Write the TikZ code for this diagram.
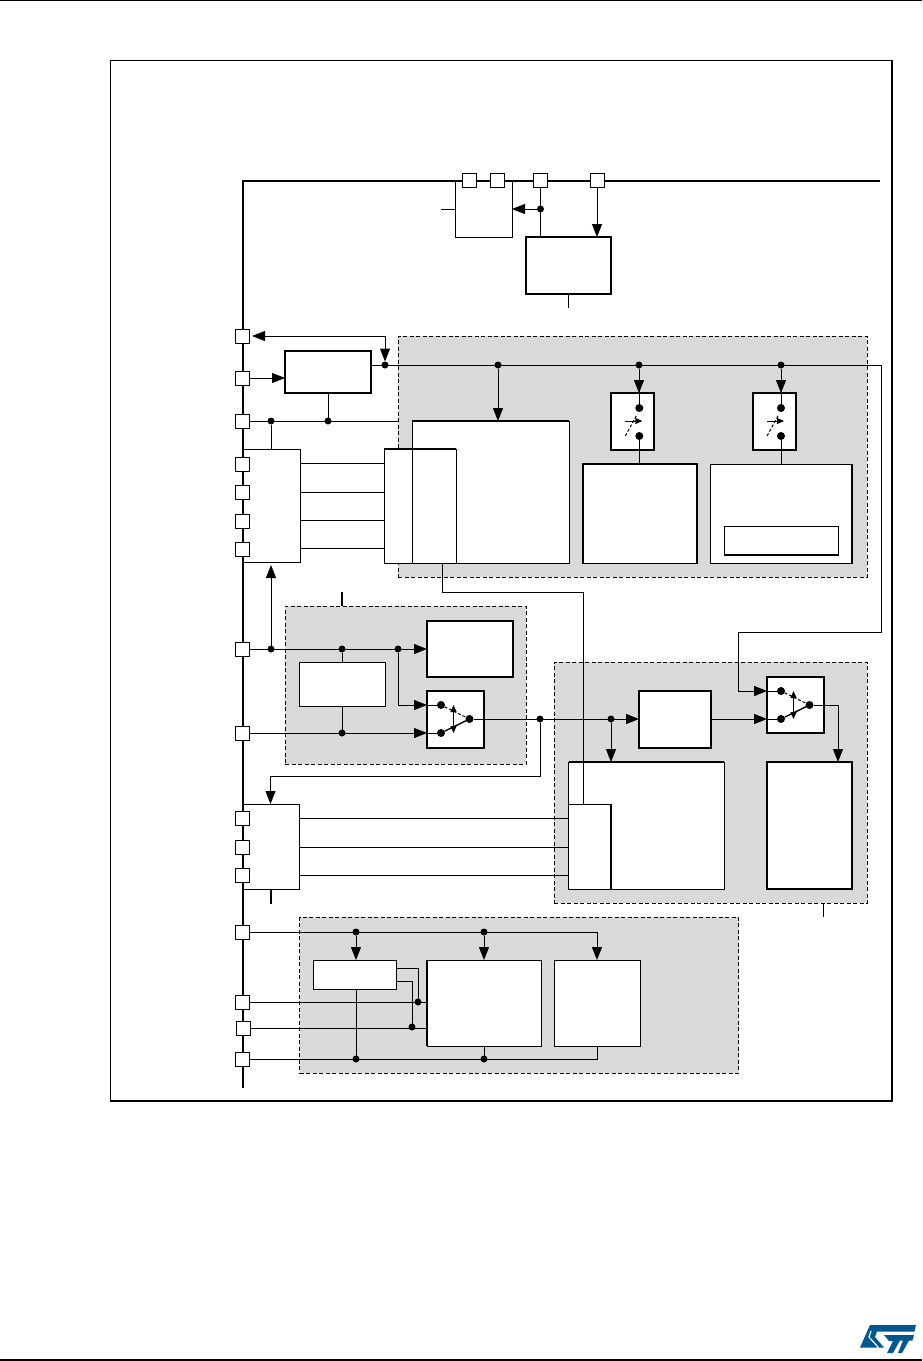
\documentclass[tikz,border=0pt]{standalone}
\usepackage{xcolor}
\usetikzlibrary{arrows.meta, positioning, calc}
\definecolor{panelgray}{HTML}{D9D9D9}
\definecolor{stblue}{HTML}{03578F}
\tikzset{
    sheet/.style={x=1pt, y=-1pt},
    thinbox/.style={draw, fill=white, line width=1pt, inner sep=0pt, outer sep=0pt, anchor=north west},
    thickbox/.style={thinbox, line width=1.6pt},
    panel/.style={draw, fill=panelgray, dashed, dash pattern=on 4pt off 2.5pt, line width=.9pt, inner sep=0pt, outer sep=0pt, anchor=north west},
    pad/.style={draw, fill=white, line width=1pt, minimum size=14pt, inner sep=0pt, outer sep=0pt},
    dot/.style={circle, fill=black, minimum size=7pt, inner sep=0pt, outer sep=0pt},
    contact/.style={circle, fill=black, minimum size=8pt, inner sep=0pt, outer sep=0pt},
    sig/.style={line width=1pt},
    heavy/.style={line width=1.8pt},
    arr/.style={line width=1pt, -{Triangle[length=13pt,width=10pt]}},
    arrtwo/.style={line width=1pt, {Triangle[length=13pt,width=10pt]}-{Triangle[length=13pt,width=10pt]}},
    tinyarr/.style={line width=1pt, -{Triangle[length=7pt,width=6pt]}},
    both/.style={line width=1.2pt, {Triangle[length=7pt,width=6pt]}-{Triangle[length=7pt,width=6pt]}},
}

\begin{document}
\begin{tikzpicture}[sheet]
    \useasboundingbox (0,0) rectangle (922,1361);
    \fill[white] (0,0) rectangle (922,1361);

    % page rules and frame
    \draw[line width=1.2pt] (0,.6) -- (922,.6);
    \draw[line width=1.2pt] (0,1360) -- (922,1360);
    \draw[line width=1.2pt] (110.5,60.5) rectangle (892,1101);

    % grey panels
    \node[panel, minimum width=469pt, minimum height=241pt] (panelA) at (398,336) {};
    \node[panel, minimum width=241pt, minimum height=158pt] (panelB) at (285,606) {};
    \node[panel, minimum width=313pt, minimum height=241pt] (panelC) at (554,662) {};
    \node[panel, minimum width=439pt, minimum height=156pt] (panelD) at (299.5,917) {};

    % supply rail
    \coordinate (railEnd) at (243,1088);
    \coordinate (railCorner) at (243,181);
    \coordinate (railRight) at (880,181);
    \draw[line width=1.8pt] (railEnd) -- (railCorner) -- (railRight);

    % blocks at the top
    \node[thinbox, minimum width=57pt, minimum height=56pt] (regbox) at (455,181) {};
    \node[thickbox, minimum width=85pt, minimum height=57pt] (topbox) at (526,237) {};
    \node[thickbox, minimum width=86pt, minimum height=42pt] (refbox) at (285,351) {};

    % first converter group
    \node[thinbox, minimum width=157pt, minimum height=142.5pt] (convA) at (412,421) {};
    \node[thinbox, minimum width=72pt, minimum height=114pt] (inA) at (384,449) {};
    \node[thinbox, minimum width=57pt, minimum height=113pt] (gpioA) at (243,449) {};
    \node[thickbox, minimum width=43pt, minimum height=57pt] (swboxA) at (611,393) {};
    \node[thickbox, minimum width=43pt, minimum height=57pt] (swboxB) at (753,393) {};
    \node[thickbox, minimum width=114pt, minimum height=99.5pt] (dacA) at (583,464) {};
    \node[thinbox, minimum width=142pt, minimum height=99.5pt] (dacB) at (710,464) {};
    \node[thinbox, minimum width=114pt, minimum height=29pt] (innerB) at (724,526) {};
    \draw[heavy] (convA.north west) -- (convA.north east);
    \draw[heavy] (inA.north west) -- (inA.north east);
    \draw[heavy] (dacB.north east) -- (dacB.south east);
    \draw[heavy] (innerB.south west) -- (innerB.south east);

    % oscillator group
    \node[thickbox, minimum width=86pt, minimum height=56pt] (oscA) at (427,621) {};
    \node[thinbox, minimum width=86pt, minimum height=44pt] (oscB) at (299,662) {};
    \node[thickbox, minimum width=57pt, minimum height=57pt] (swboxC) at (427,691) {};

    % second converter group
    \node[thickbox, minimum width=72pt, minimum height=57pt] (ampbox) at (639,691) {};
    \node[thickbox, minimum width=57pt, minimum height=56pt] (swboxD) at (767,677) {};
    \node[thinbox, minimum width=155.5pt, minimum height=127pt] (convB) at (568.5,762) {};
    \node[thinbox, minimum width=42.5pt, minimum height=85pt] (inB) at (568.5,804) {};
    \node[thickbox, minimum width=85pt, minimum height=127pt] (sideC) at (767,762) {};
    \node[thinbox, minimum width=56.5pt, minimum height=85pt] (gpioB) at (243,804) {};
    \draw[heavy] (convB.north west) -- (convB.north east);
    \draw[heavy] (inB.north east) -- (inB.south east);

    % lower group
    \node[thinbox, minimum width=83pt, minimum height=29pt] (ctlbox) at (313,960) {};
    \node[thinbox, minimum width=114pt, minimum height=86pt] (lowA) at (427,960) {};
    \node[thinbox, minimum width=85.5pt, minimum height=86pt] (lowB) at (554.5,960) {};
    \draw[heavy] (lowA.north west) -- (lowA.south west);

    % pads
    \foreach \px/\nm in {469.5/A, 497.5/B, 540.5/C, 597/D}
        \node[pad] (top\nm) at (\px,180.5) {};
    \foreach \py/\nm in {336/A, 378/B, 421/C, 464/D, 492/E, 521/F, 549/G, 649/H, 733/I, 818/J, 847/K, 875/L, 932/M, 1002/N, 1059/P}
        \node[pad] (pad\nm) at (242,\py) {};
    \node[pad] (padO) at (243.5,1028) {};

    % junctions
    \foreach \px/\py/\nm in {540.5/209/reg, 385/365/ref, 498/365/convtap, 639/365/tapA, 781/365/tapB,
        271/421/vssA, 328/421/vssB, 271/649/clkA, 342/649/clkB, 398/649/clkC, 342/733/clkD,
        540/719/outA, 611/719/outB, 356/932/lowP, 484/932/lowQ, 356/1059/lowR, 484/1059/lowS,
        418/1002/lowT, 412/1027/lowU}
        \node[dot] (j\nm) at (\px,\py) {};

    % top connectors
    \coordinate (regStub) at (441,209);
    \coordinate (topStub) at (568,308);
    \draw[sig] (regStub) -- (regStub -| regbox.west);
    \draw[arr] (jreg) -- (jreg -| regbox.east);
    \draw[sig] (topC) -- (topC |- topbox.north);
    \draw[arr] (topD) -- (topD |- topbox.north);
    \draw[sig] (topStub) -- (topStub |- topbox.south);

    % reference line
    \coordinate (refEnd) at (881,365);
    \coordinate (refBelow) at (881,632);
    \coordinate (refTurn) at (738,632);
    \coordinate (swInA) at (738,691);
    \coordinate (vssEnd) at (398,421);
    \draw[arrtwo, shorten >=3pt] (jref.north) |- (padA);
    \draw[arr] (padB) -- (padB -| refbox.west);
    \draw[sig] (refbox.east |- refEnd) -- (refEnd) -- (refBelow) -- (refTurn) -- (swInA);
    \draw[arr] (swInA) -- (swInA -| swboxD.west);
    \draw[arr] (jconvtap) -- (jconvtap |- convA.north);
    \draw[arr] (jtapA) -- (jtapA |- swboxA.north);
    \draw[arr] (jtapB) -- (jtapB |- swboxB.north);
    \draw[sig] (padC) -- (vssEnd);
    \draw[sig] (jvssB) -- (jvssB |- refbox.south);
    \draw[sig] (jvssA) -- (jvssA |- gpioA.north);

    % first converter wiring
    \foreach \py in {463.5, 492, 520, 548.5}
        \draw[sig] (gpioA.west |- 0,\py) ++(57,0) -- (inA.west |- 0,\py);
    \draw[sig] (convA.north west |- inA.north) -- (convA.south west);
    \coordinate (busA) at (442,592);
    \coordinate (busB) at (583,592);
    \draw[sig] (busA |- inA.south) -- (busA) -- (busB) -- (busB |- inB.north);

    % contacts of the two upright switches
    \foreach \nm/\px in {A/639.3, B/781} {
        \node[contact] (sw\nm up) at (\px,408) {};
        \node[contact] (sw\nm lo) at (\px,436) {};
        \coordinate (sw\nm arL) at (\px-14,421);
        \coordinate (sw\nm arR) at (\px+3,421);
        \coordinate (sw\nm daL) at (\px-14,436);
        \coordinate (sw\nm daR) at (\px-2,414);
        \draw[sig] (sw\nm up.north) -- ++(0,-15);
        \draw[tinyarr] (sw\nm arL) -- (sw\nm arR);
        \draw[sig, dashed, dash pattern=on 3pt off 2pt] (sw\nm daL) -- (sw\nm daR);
    }
    \draw[sig] (swAlo) -- (swAlo |- dacA.north);
    \draw[sig] (swBlo) -- (swBlo |- dacB.north);

    % oscillator wiring
    \coordinate (clkTurn) at (398,705);
    \draw[arr, shorten >=3pt] (jclkA) -- (jclkA |- gpioA.south);
    \draw[arr] (padH) -- (padH -| oscA.west);
    \draw[sig] (jclkB) -- (jclkB |- oscB.north);
    \draw[sig] (jclkD) -- (jclkD |- oscB.south);
    \draw[arr] (padI) -- (padI -| swboxC.west);
    \draw[sig] (jclkC) -- (clkTurn);
    \draw[arr] (clkTurn) -- (clkTurn -| swboxC.west);
    \coordinate (oscStub) at (342,592);
    \draw[heavy] (oscStub) -- (oscStub |- panelB.north);

    % selector switches
    \foreach \nm/\px/\py in {C/441/705, D/781/691} {
        \node[contact] (sw\nm up) at (\px,\py) {};
        \node[contact] (sw\nm lo) at (\px,\py+28) {};
        \node[contact] (sw\nm out) at (\px+28.5,\py+14) {};
        \coordinate (sw\nm arU) at (\px+12.5,\py);
        \coordinate (sw\nm arD) at (\px+12.5,\py+28);
        \draw[sig, dashed, dash pattern=on 3pt off 2pt] (sw\nm up) -- (sw\nm out);
        \draw[line width=1.4pt] (sw\nm lo) -- (sw\nm out);
        \draw[both] (sw\nm arU) -- (sw\nm arD);
    }

    % middle wiring
    \coordinate (outLow) at (540,776);
    \coordinate (outLeft) at (270.5,776);
    \coordinate (swOutTurn) at (838,705);
    \draw[arr] (swCout) -- (swCout -| ampbox.west);
    \draw[sig] (joutA) -- (outLow) -- (outLeft);
    \draw[arr] (outLeft) -- (outLeft |- gpioB.north);
    \draw[arr] (joutB) -- (joutB |- convB.north);
    \draw[arr] (ampbox.east |- swDlo) -- (swDlo -| swboxD.west);
    \draw[sig] (swDout) -- (swOutTurn);
    \draw[arr] (swOutTurn) -- (swOutTurn |- sideC.north);
    \draw[sig] (swDlo) -- (swDlo -| swboxD.west);
    \draw[sig] (swDup) -- (swDup -| swboxD.west);
    \draw[sig] (swClo) -- (swClo -| swboxC.west);
    \draw[sig] (swCup) -- (swCup -| swboxC.west);
    \foreach \py in {818, 847, 875}
        \draw[sig] (gpioB.east |- 0,\py) -- (inB.west |- 0,\py);
    \coordinate (gpioStub) at (271,904);
    \coordinate (panelStub) at (823,917);
    \draw[heavy] (gpioStub) -- (gpioStub |- gpioB.south);
    \draw[sig] (panelStub) -- (panelStub |- panelC.south);

    % lower wiring
    \coordinate (lowTurn) at (597,932);
    \coordinate (ctlOutA) at (397,968);
    \coordinate (ctlOutB) at (396,981);
    \coordinate (lowBack) at (597,1059);
    \draw[sig] (padM) -- (lowTurn);
    \draw[arr] (lowTurn) -- (lowTurn |- lowB.north);
    \draw[arr] (jlowP) -- (jlowP |- ctlbox.north);
    \draw[arr] (jlowQ) -- (jlowQ |- lowA.north);
    \draw[sig] (padN) -- (padN -| lowA.west);
    \draw[sig] (padO) -- (padO -| lowA.west);
    \draw[sig] (padP) -- (lowBack) -- (lowBack |- lowB.south);
    \draw[sig] (jlowR) -- (jlowR |- ctlbox.south);
    \draw[sig] (jlowS) -- (jlowS |- lowA.south);
    \draw[sig] (ctlOutA) -| (jlowT);
    \draw[sig] (ctlOutB) -| (jlowU);

    % logo
    \fill[stblue] (870,1325) -- (916,1325) -- (914.5,1331.5) -- (877,1331.5) -- (875,1337) -- (884,1347.5) -- (860,1347.5) -- cycle;
    \fill[stblue] (884,1335) -- (914,1335) -- (912.5,1340.5) -- (909,1340.5) -- (902,1353) -- (898,1353) -- (903,1340.5) -- (900,1340.5) -- (893,1353) -- (887,1353) -- (893,1341) -- (889,1341) -- cycle;
    \draw[white, line width=1.2pt] (871,1331) -- (869,1337) -- (878,1347) -- (876,1350);
\end{tikzpicture}
\end{document}
